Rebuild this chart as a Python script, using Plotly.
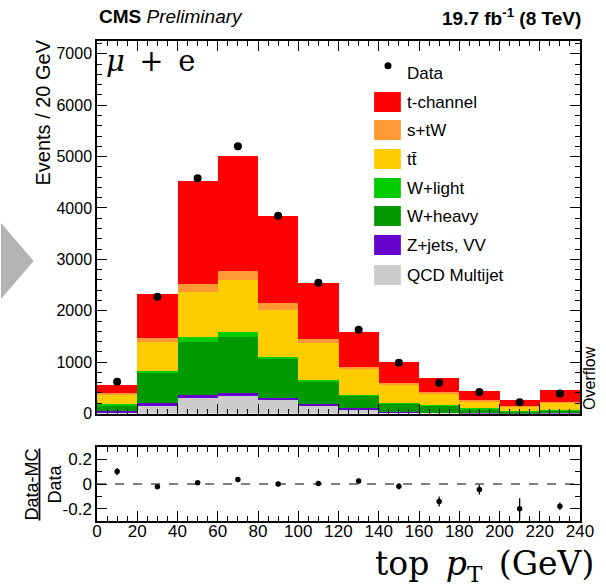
import plotly.graph_objects as go

# ---- binning (top pT, 20 GeV bins, last bin includes overflow) ----
bin_edges = [0, 20, 40, 60, 80, 100, 120, 140, 160, 180, 200, 220, 240]
bin_centers = [10, 30, 50, 70, 90, 110, 130, 150, 170, 190, 210, 230]

# ---- stacked simulation components (events / bin), bottom to top ----
qcd      = [29, 146, 302, 335, 257, 146, 85, 25, 12, 8, 5, 8]
zjets_vv = [25, 53, 58, 64, 51, 45, 25, 10, 6, 4, 3, 4]
w_heavy  = [98, 603, 1026, 1096, 747, 428, 231, 150, 128, 70, 35, 37]
w_light  = [27, 25, 98, 98, 45, 33, 19, 25, 19, 18, 12, 19]
ttbar    = [194, 559, 882, 1006, 915, 721, 500, 350, 228, 130, 77, 137]
s_tw     = [32, 90, 161, 176, 142, 78, 40, 28, 20, 33, 20, 25]
t_chan   = [150, 851, 2006, 2239, 1694, 1084, 693, 421, 272, 175, 111, 227]

# ---- observed data ----
data = [617, 2274, 4580, 5203, 3851, 2547, 1632, 990, 600, 419, 219, 387]
ratio_err = [0.03, 0.012, 0.01, 0.01, 0.012, 0.013, 0.02, 0.025, 0.04, 0.04, 0.085, 0.03]

components = [
    ("QCD Multijet", qcd, "#cccccc"),
    ("Z+jets, VV", zjets_vv, "#6600cc"),
    ("W+heavy", w_heavy, "#009900"),
    ("W+light", w_light, "#00cc00"),
    ("tt\u0304", ttbar, "#ffcc00"),
    ("s+tW", s_tw, "#ff9933"),
    ("t-channel", t_chan, "#ff0000"),
]

mc_total = [sum(c[1][i] for c in components) for i in range(len(bin_centers))]
ratio = [(d - m) / d for d, m in zip(data, mc_total)]

fig = go.Figure()

for name, vals, col in components:
    fig.add_trace(go.Bar(
        x=bin_centers, y=vals, width=20, name=name,
        marker=dict(color=col, line=dict(width=0)),
        xaxis="x", yaxis="y", showlegend=False,
    ))

fig.add_trace(go.Scatter(
    x=bin_centers, y=data, mode="markers", name="Data",
    marker=dict(color="black", size=8),
    xaxis="x", yaxis="y", showlegend=False,
))

fig.add_trace(go.Scatter(
    x=bin_centers, y=ratio, mode="markers",
    marker=dict(color="black", size=5.5),
    error_y=dict(type="data", array=ratio_err, color="black", thickness=1.3, width=0),
    xaxis="x2", yaxis="y2", showlegend=False,
))

FONT = "Liberation Sans, Arial, sans-serif"
SERIF = "DejaVu Serif, Liberation Serif, serif"

# figure geometry (pixels)
L, R, T, B = 97, 21, 41, 66
W, H = 606, 587
PW, PH = W - L - R, H - T - B


def px_to_paper(px, py):
    return (px - L) / PW, (H - B - py) / PH


main_bottom = px_to_paper(0, 413.5)[1]
ratio_top = px_to_paper(0, 447)[1]

common_x = dict(
    range=[0, 240], ticks="inside", tickvals=bin_edges, ticklen=10, tickwidth=1.2,
    tickcolor="black", showline=True, linecolor="black", linewidth=1.5,
    mirror="allticks", showgrid=False, zeroline=False,
    minor=dict(dtick=5, ticks="inside", ticklen=5, tickcolor="black", tickwidth=1),
)

fig.update_layout(
    width=W, height=H,
    margin=dict(l=L, r=R, t=T, b=B),
    paper_bgcolor="white", plot_bgcolor="white",
    barmode="stack", bargap=0,
    font=dict(family=FONT, size=16, color="black"),
    xaxis=dict(**common_x, domain=[0, 1], anchor="y", showticklabels=False),
    yaxis=dict(
        domain=[main_bottom, 1], range=[0, 7250], anchor="x",
        ticks="inside", dtick=1000, ticklen=10, tickwidth=1.2, tickcolor="black",
        showline=True, linecolor="black", linewidth=1.5, mirror="allticks",
        showgrid=False, zeroline=False, tickfont=dict(size=16),
        minor=dict(dtick=200, ticks="inside", ticklen=5, tickcolor="black", tickwidth=1),
    ),
    xaxis2=dict(**common_x, domain=[0, 1], anchor="y2", showticklabels=True,
                tickfont=dict(size=17), matches="x", ticklabelstandoff=-6),
    yaxis2=dict(
        domain=[0, ratio_top], range=[-0.3, 0.3], anchor="x2",
        ticks="inside", tickvals=[-0.2, 0, 0.2], ticktext=["-0.2", "0", "0.2"],
        ticklen=10, tickwidth=1.2, tickcolor="black",
        showline=True, linecolor="black", linewidth=1.5, mirror="allticks",
        showgrid=False, zeroline=False, tickfont=dict(size=17),
        minor=dict(dtick=0.1, ticks="inside", ticklen=5, tickcolor="black", tickwidth=1),
    ),
)

# dashed reference line at zero in the ratio panel
fig.add_shape(type="line", xref="x2", yref="y2", x0=0, x1=240, y0=0, y1=0,
              line=dict(color="black", width=1, dash="dash"))

# grey arrow on the left edge
ax0, ay0 = px_to_paper(0, 223)
ax1, ay1 = px_to_paper(33, 261)
ax2, ay2 = px_to_paper(0, 299)
fig.add_shape(type="path", xref="paper", yref="paper",
              path=f"M {ax0} {ay0} L {ax1} {ay1} L {ax2} {ay2} Z",
              fillcolor="#b3b3b3", line=dict(width=0), layer="below")

annotations = []
# header
annotations.append(dict(xref="paper", yref="paper", x=0, y=px_to_paper(0, 17)[1],
                        text="<b>CMS</b> <i>Preliminary</i>", showarrow=False,
                        xanchor="left", yanchor="middle", font=dict(size=19)))
annotations.append(dict(xref="paper", yref="paper", x=px_to_paper(588, 0)[0],
                        y=px_to_paper(0, 17)[1],
                        text="<b>19.7 fb<sup>-1</sup> (8 TeV)</b>", showarrow=False,
                        xanchor="right", yanchor="middle", font=dict(size=19)))
# channel label
annotations.append(dict(xref="paper", yref="paper", x=px_to_paper(104, 0)[0],
                        y=px_to_paper(0, 61)[1],
                        text="<i>μ</i>\u2002+\u2002e", showarrow=False, xanchor="left",
                        yanchor="middle", font=dict(family=SERIF, size=29)))
# axis titles
annotations.append(dict(xref="paper", yref="paper", x=px_to_paper(42, 0)[0],
                        y=px_to_paper(0, 38)[1], text="Events / 20 GeV",
                        textangle=-90, showarrow=False, xanchor="center",
                        yanchor="top", font=dict(size=20)))
annotations.append(dict(xref="paper", yref="paper", x=px_to_paper(42, 0)[0],
                        y=px_to_paper(0, 485)[1], text="<u>Data-MC</u><br>Data",
                        textangle=-90, showarrow=False, xanchor="center",
                        yanchor="middle", font=dict(size=18)))
annotations.append(dict(xref="paper", yref="paper", x=px_to_paper(601, 0)[0],
                        y=px_to_paper(0, 565)[1],
                        text="top\u2002<i>p</i><sub>T</sub>\u2002(GeV)", showarrow=False,
                        xanchor="right", yanchor="middle",
                        font=dict(family=SERIF, size=33)))
annotations.append(dict(xref="paper", yref="paper", x=px_to_paper(594, 0)[0],
                        y=px_to_paper(0, 378)[1], text="Overflow", textangle=-90,
                        showarrow=False, xanchor="center", yanchor="middle",
                        font=dict(size=16)))

# legend drawn as boxes + labels
legend_rows = [("Data", None, 73)] + [
    (name, col, y) for (name, _, col), y in zip(reversed(components),
                                                  [102, 130, 159, 188, 216, 245, 275])
]
for name, col, ypx in legend_rows:
    if col is None:
        cx, cy = px_to_paper(391, ypx)
        fig.add_trace(go.Scatter(x=[cx], y=[cy], xaxis="x3", yaxis="y3",
                                 mode="markers", marker=dict(color="black", size=7),
                                 showlegend=False, hoverinfo="skip"))
    else:
        x0, y0 = px_to_paper(377, ypx - 10)
        x1, y1 = px_to_paper(404, ypx + 10)
        fig.add_shape(type="rect", xref="paper", yref="paper",
                      x0=x0, x1=x1, y0=y1, y1=y0, fillcolor=col,
                      line=dict(width=0))
    tx, ty = px_to_paper(408, ypx)
    annotations.append(dict(xref="paper", yref="paper", x=tx, y=ty, text=name,
                            showarrow=False, xanchor="left", yanchor="middle",
                            font=dict(size=17)))

# overlay axes spanning the full plotting area (paper units) for the legend marker
fig.update_layout(
    xaxis3=dict(domain=[0, 1], range=[0, 1], overlaying="x", visible=False, anchor="y3"),
    yaxis3=dict(domain=[0, 1], range=[0, 1], overlaying="y", visible=False, anchor="x3"),
    annotations=annotations,
)

fig.write_html("out.html")
